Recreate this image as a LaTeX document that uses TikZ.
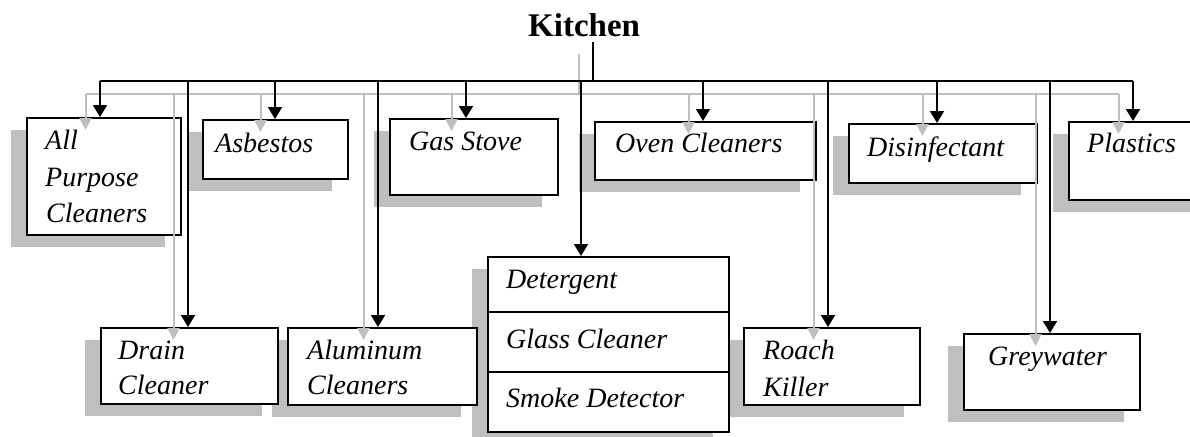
\documentclass[tikz,border=0pt]{standalone}
\usepackage{fontspec}
\setmainfont{Liberation Serif}
\usetikzlibrary{arrows.meta}
\definecolor{shade}{HTML}{BFBFBF}
\begin{document}
\begin{tikzpicture}[x=1pt,y=-1pt,
  box/.style={draw=black, fill=white, line width=1.8pt, rectangle, inner sep=0pt, anchor=north west},
  shadowbox/.style={fill=shade, draw=none, rectangle, inner sep=0pt, anchor=north west},
  conn/.style={draw=black, line width=1.8pt, -{Triangle[width=14pt,length=12pt]}},
  sconn/.style={draw=shade, line width=2pt, -{Triangle[width=12pt,length=12pt]}},
  busline/.style={draw=black, line width=1.8pt},
  sbusline/.style={draw=shade, line width=2pt},
  lbl/.style={anchor=base west, inner sep=0pt, font=\fontsize{28}{30}\selectfont\itshape},
  ttl/.style={anchor=base west, inner sep=0pt, font=\fontsize{33}{36}\selectfont\bfseries}]
\useasboundingbox (0,0) rectangle (1190,436);
\clip (0,0) rectangle (1190,436);

% shadows
\foreach \n/\a/\b/\c/\d in {apc/26/117/180/234, asb/202/119/347/178, gas/389/118/557/194,
  ovn/594/121/815/179, dis/848/123/1036/182, pla/1068/121/1205/199,
  drn/100/327/277/403, alu/287/327/476/404, det/487/256/728/431,
  roa/743/327/919/404, gry/963/333/1139/409}
  {\node[shadowbox, minimum width={\c-\a}, minimum height={\d-\b}] (\n-s) at ({\a-15},{\b+13}) {};}

% boxes
\foreach \n/\a/\b/\c/\d in {apc/26/117/180/234, asb/202/119/347/178, gas/389/118/557/194,
  ovn/594/121/815/179, dis/848/123/1036/182, pla/1068/121/1205/199,
  drn/100/327/277/403, alu/287/327/476/404, det/487/256/728/431,
  roa/743/327/919/404, gry/963/333/1139/409}
  {\node[box, minimum width={\c-\a}, minimum height={\d-\b}] (\n) at (\a,\b) {};}

% detergent dividers
\coordinate (dv1l) at (487,312); \coordinate (dv1r) at (730,312);
\coordinate (dv2l) at (487,372); \coordinate (dv2r) at (730,372);
\draw[line width=1.5pt] (dv1l) -- (dv1r);
\draw[line width=1.5pt] (dv2l) -- (dv2r);

% texts
\node[ttl] (kit) at (528,37) {Kitchen};
\node[lbl] (t-apc1) at (45,149) {All};
\node[lbl] (t-apc2) at (45,186) {Purpose};
\node[lbl] (t-apc3) at (46,222) {Cleaners};
\node[lbl] (t-asb) at (215,152) {Asbestos};
\node[lbl] (t-gas) at (409,150) {Gas Stove};
\node[lbl] (t-ovn) at (615,152) {Oven Cleaners};
\node[lbl] (t-dis) at (867,156) {Disinfectant};
\node[lbl] (t-pla) at (1087,152) {Plastics};
\node[lbl] (t-drn1) at (118,359) {Drain};
\node[lbl] (t-drn2) at (118,394) {Cleaner};
\node[lbl] (t-alu1) at (307,359) {Aluminum};
\node[lbl] (t-alu2) at (307,394) {Cleaners};
\node[lbl] (t-det1) at (506,288) {Detergent};
\node[lbl] (t-det2) at (506,348) {Glass Cleaner};
\node[lbl] (t-det3) at (506,407) {Smoke Detector};
\node[lbl] (t-roa1) at (763,359) {Roach};
\node[lbl] (t-roa2) at (763,396) {Killer};
\node[lbl] (t-gry) at (988,365) {Greywater};

% drop coordinates
\foreach \n/\x in {apc/100, asb/275, gas/466, ovn/703, dis/937, pla/1133,
  drn/188, alu/378, det/581, roa/828, gry/1050}
  {\coordinate (\n-d) at (\x,81); \coordinate (\n-ds) at ({\x-14.5},93.5);}
\coordinate (stem) at (593,42);
\coordinate (stem-s) at (578.5,54.5);

% shadow connectors
\draw[sbusline] (stem-s) -- (stem-s |- apc-ds);
\draw[sbusline] (apc-ds) -- (pla-ds);
\foreach \n in {apc, asb, gas, ovn, dis, pla, drn, alu, roa, gry}
  {\draw[sconn] (\n-ds) -- (\n-ds |- \n-s.north);}

% black connectors
\draw[busline] (stem) -- (stem |- apc-d);
\draw[busline] (apc-d) -- (pla-d);
\foreach \n in {apc, asb, gas, ovn, dis, pla, drn, alu, det, roa, gry}
  {\draw[conn] (\n-d) -- (\n-d |- \n.north);}
\end{tikzpicture}
\end{document}
